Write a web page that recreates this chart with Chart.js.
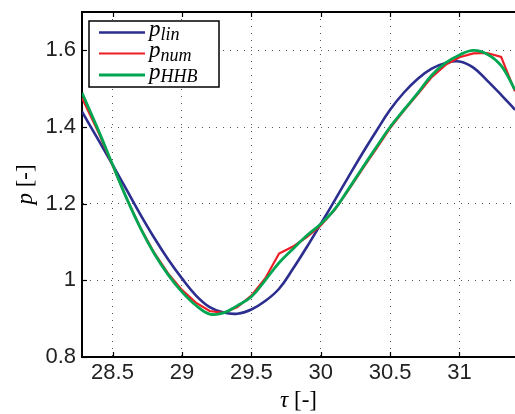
<!DOCTYPE html>
<html>
<head>
<meta charset="utf-8">
<script src="https://cdn.jsdelivr.net/npm/chart.js@4.4.0/dist/chart.umd.min.js"></script>
<style>
  html, body { margin: 0; padding: 0; background: #fff; }
  #wrap { width: 515px; height: 414px; }
</style>
</head>
<body>
<div id="wrap"><canvas id="pChart" width="515" height="414"></canvas></div>
<script>
// values
const tau = [28.28, 28.4, 28.5, 28.6, 28.7, 28.8, 28.9, 29.0, 29.1, 29.2, 29.3, 29.4, 29.5, 29.6, 29.7,
             29.8, 29.9, 30.0, 30.1, 30.2, 30.3, 30.4, 30.5, 30.6, 30.7, 30.8, 30.9, 31.0, 31.1, 31.2, 31.3, 31.4];
const pLin = [1.440, 1.365, 1.302, 1.237, 1.172, 1.111, 1.055, 1.005, 0.961, 0.930, 0.916, 0.913, 0.924, 0.946, 0.978,
              1.030, 1.087, 1.147, 1.208, 1.270, 1.331, 1.389, 1.445, 1.490, 1.526, 1.552, 1.567, 1.571, 1.555, 1.521, 1.484, 1.445];
const pNum = [1.476, 1.385, 1.300, 1.215, 1.138, 1.072, 1.018, 0.975, 0.942, 0.920, 0.915, 0.930, 0.960, 1.005, 1.070,
              1.088, 1.113, 1.143, 1.183, 1.235, 1.290, 1.343, 1.397, 1.443, 1.486, 1.530, 1.562, 1.582, 1.592, 1.593, 1.583, 1.493];
const pHHB = [1.489, 1.390, 1.302, 1.215, 1.137, 1.070, 1.015, 0.970, 0.935, 0.912, 0.915, 0.934, 0.957, 1.000, 1.046,
              1.082, 1.117, 1.147, 1.185, 1.238, 1.293, 1.347, 1.400, 1.445, 1.489, 1.535, 1.567, 1.588, 1.600, 1.590, 1.560, 1.497];
const xTicks = [28.5, 29, 29.5, 30, 30.5, 31];
const yTicks = [0.8, 1, 1.2, 1.4, 1.6];
const seriesNames = ['lin', 'num', 'HHB'];

const sans = '"Liberation Sans", Arial, sans-serif';
const serif = '"Liberation Serif", "DejaVu Serif", serif';

const toPoints = ys => tau.map((t, i) => ({ x: t, y: ys[i] }));

function drawMath(ctx, parts, x, y) {
  let cx = x;
  parts.forEach(p => {
    ctx.font = (p.italic ? 'italic ' : '') + p.size + 'px ' + serif;
    ctx.fillText(p.text, cx, y + (p.dy || 0));
    cx += ctx.measureText(p.text).width;
  });
  return cx - x;
}

function mathWidth(ctx, parts) {
  let w = 0;
  parts.forEach(p => {
    ctx.font = (p.italic ? 'italic ' : '') + p.size + 'px ' + serif;
    w += ctx.measureText(p.text).width;
  });
  return w;
}

const matlabFrame = {
  id: 'matlabFrame',
  afterDraw(chart) {
    const ctx = chart.ctx;
    const area = chart.chartArea;
    const xs = chart.scales.x, ys = chart.scales.y;
    ctx.save();

    // top border + inward ticks
    ctx.strokeStyle = '#000';
    ctx.lineWidth = 2;
    ctx.beginPath();
    ctx.moveTo(area.left, area.top);
    ctx.lineTo(area.right, area.top);
    ctx.stroke();
    ctx.lineWidth = 1.2;
    xTicks.forEach(v => {
      const px = Math.round(xs.getPixelForValue(v)) + 0.5;
      ctx.beginPath();
      ctx.moveTo(px, area.bottom); ctx.lineTo(px, area.bottom - 5);
      ctx.moveTo(px, area.top); ctx.lineTo(px, area.top + 5);
      ctx.stroke();
    });
    yTicks.forEach(v => {
      const py = Math.round(ys.getPixelForValue(v)) + 0.5;
      ctx.beginPath();
      ctx.moveTo(area.left, py); ctx.lineTo(area.left + 5, py);
      ctx.stroke();
    });

    // legend
    const box = { x: 89, y: 21, w: 130, h: 66 };
    ctx.fillStyle = '#fff';
    ctx.fillRect(box.x, box.y, box.w, box.h);
    ctx.strokeStyle = '#000';
    ctx.lineWidth = 1.5;
    ctx.strokeRect(box.x, box.y, box.w, box.h);
    const lineYs = [32.5, 53.5, 75];
    chart.data.datasets.forEach((ds, i) => {
      const ly = lineYs[i];
      ctx.strokeStyle = ds.borderColor;
      ctx.lineWidth = ds.borderWidth;
      ctx.beginPath();
      ctx.moveTo(99, ly); ctx.lineTo(145, ly);
      ctx.stroke();
      ctx.fillStyle = '#000';
      ctx.textBaseline = 'alphabetic';
      ctx.textAlign = 'left';
      drawMath(ctx, [
        { text: 'p', italic: true, size: 23 },
        { text: seriesNames[i], italic: true, size: 18, dy: 3.5 }
      ], 149, ly + 3.5);
    });

    // axis titles
    ctx.fillStyle = '#000';
    const xt = [{ text: 'τ', italic: true, size: 23 }, { text: ' [-]', size: 23 }];
    const xw = mathWidth(ctx, xt);
    drawMath(ctx, xt, (area.left + area.right) / 2 - xw / 2, 407);

    const yt = [{ text: 'p', italic: true, size: 23 }, { text: ' [-]', size: 23 }];
    const yw = mathWidth(ctx, yt);
    ctx.translate(32, (area.top + area.bottom) / 2);
    ctx.rotate(-Math.PI / 2);
    drawMath(ctx, yt, -yw / 2, 0);

    ctx.restore();
  }
};

const gridDots = { color: '#000', width: 2, dash: [1, 6] };

new Chart(document.getElementById('pChart'), {
  type: 'line',
  data: {
    datasets: [
      { label: 'p_lin', data: toPoints(pLin), borderColor: '#2b2d8f', borderWidth: 2.6, tension: 0.4, order: 2 },
      { label: 'p_num', data: toPoints(pNum), borderColor: '#ee1c24', borderWidth: 2.2, tension: 0, order: 1 },
      { label: 'p_HHB', data: toPoints(pHHB), borderColor: '#00a651', borderWidth: 2.8, tension: 0.4, order: 0 }
    ]
  },
  options: {
    responsive: false,
    animation: false,
    events: [],
    layout: { padding: { top: 12, right: 0, left: 0, bottom: 0 } },
    elements: { point: { radius: 0 } },
    plugins: { legend: { display: false }, tooltip: { enabled: false } },
    scales: {
      x: {
        type: 'linear',
        min: 28.28,
        max: 31.4,
        afterFit: s => { s.height = 57; s.paddingLeft = 0; s.paddingRight = 0; },
        afterBuildTicks: s => { s.ticks = xTicks.map(v => ({ value: v })); },
        grid: { color: '#555', lineWidth: 1, drawTicks: false },
        border: gridDots,
        ticks: { padding: 3, color: '#222', font: { family: sans, size: 22 }, maxRotation: 0, callback: v => String(v) }
      },
      y: {
        type: 'linear',
        min: 0.8,
        max: 1.7,
        afterFit: s => { s.width = 82; s.paddingTop = 0; s.paddingBottom = 0; },
        afterBuildTicks: s => { s.ticks = yTicks.map(v => ({ value: v })); },
        grid: { color: '#555', lineWidth: 1, drawTicks: false },
        border: gridDots,
        ticks: { padding: 6, color: '#222', font: { family: sans, size: 22 }, callback: v => String(v) }
      }
    }
  },
  plugins: [matlabFrame]
});
</script>
</body>
</html>
